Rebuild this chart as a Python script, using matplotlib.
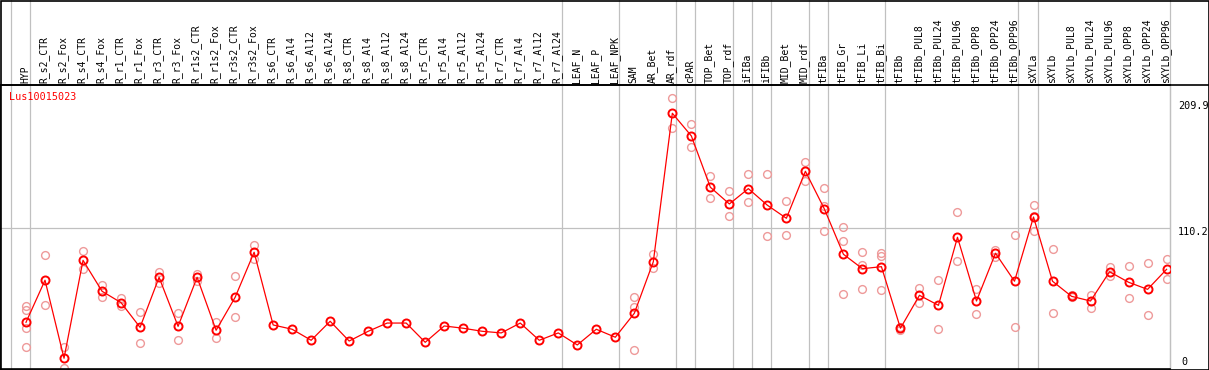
import matplotlib
matplotlib.use("Agg")
import matplotlib.pyplot as plt
from matplotlib.lines import Line2D
from matplotlib.patches import Rectangle
import matplotlib.transforms as mtransforms

gene = "Lus10015023"

categories = [
    "HYP", "R_s2_CTR", "R_s2_Fox", "R_s4_CTR", "R_s4_Fox", "R_r1_CTR", "R_r1_Fox",
    "R_r3_CTR", "R_r3_Fox", "R_r1s2_CTR", "R_r1s2_Fox", "R_r3s2_CTR", "R_r3s2_Fox",
    "R_s6_CTR", "R_s6_Al4", "R_s6_Al12", "R_s6_Al24", "R_s8_CTR", "R_s8_Al4",
    "R_s8_Al12", "R_s8_Al24", "R_r5_CTR", "R_r5_Al4", "R_r5_Al12", "R_r5_Al24",
    "R_r7_CTR", "R_r7_Al4", "R_r7_Al12", "R_r7_Al24", "LEAF_N", "LEAF_P", "LEAF_NPK",
    "SAM", "AR_Bet", "AR_rdf", "cPAR", "TOP_Bet", "TOP_rdf", "iFIBa", "iFIBb",
    "MID_Bet", "MID_rdf", "tFIBa", "tFIB_Gr", "tFIB_Li", "tFIB_Bi", "tFIBb",
    "tFIBb_PUL8", "tFIBb_PUL24", "tFIBb_PUL96", "tFIBb_OPP8", "tFIBb_OPP24",
    "tFIBb_OPP96", "sXYLa", "sXYLb", "sXYLb_PUL8", "sXYLb_PUL24", "sXYLb_PUL96",
    "sXYLb_OPP8", "sXYLb_OPP24", "sXYLb_OPP96",
]

means = [
    36.0, 69.2, 7.6, 84.9, 60.5, 51.5, 32.0, 71.5, 32.8, 71.5, 29.7, 55.7, 91.3,
    33.9, 30.5, 21.8, 36.8, 21.2, 28.9, 35.4, 35.4, 20.2, 33.1, 31.3, 28.9,
    27.6, 35.4, 21.8, 27.6, 18.1, 30.5, 24.2,
    43.1, 83.8, 201.0, 183.1, 142.6, 129.4, 141.5, 128.4,
    118.1, 155.2, 125.4, 89.7, 78.3, 79.9, 31.3,
    57.3, 49.4, 103.1, 52.8, 90.5, 68.4,
    119.1, 68.4, 56.5, 52.8, 75.9, 67.6, 62.0, 77.8,
]

replicates = [
    [49.1, 45.9, 31.7, 16.3], [88.9, 49.7], [16.3, 0.0], [92.3, 78.1], [65.4, 56.2],
    [55.4, 49.1], [44.4, 19.4], [75.5, 66.8], [43.6, 21.8], [74.1, 68.4],
    [36.5, 23.4], [72.3, 39.9], [96.8, 85.7],
    [], [], [], [], [], [], [], [], [], [], [], [], [], [], [], [], [], [], [],
    [55.7, 48.1, 13.9], [89.7, 78.6], [212.8, 189.1], [192.3, 174.1],
    [151.5, 133.9], [139.4, 119.9], [153.1, 130.7], [153.1, 104.1],
    [131.8, 104.7], [162.3, 147.8], [141.8, 128.0, 108.1], [111.0, 99.9, 58.1],
    [91.5, 81.2, 62.0], [90.5, 88.1, 61.5], [32.3, 30.3],
    [63.1, 51.5], [69.4, 30.5], [123.1, 84.2], [62.3, 42.3], [93.1, 87.8],
    [104.7, 32.0],
    [128.4, 120.1, 108.3], [93.6, 43.1], [57.5, 55.6], [57.5, 47.5], [79.7, 72.8],
    [80.2, 54.9], [82.6, 41.5], [85.7, 69.9],
]

# group separators: after these category indices
separators_after = [-1, 0, 28, 31, 34, 35, 37, 38, 39, 41, 42, 45, 52, 53]

tick_values = [209.9, 110.2, 0]
tick_labels = ["209.9", "110.2", "0"]

W, H = 1209, 370
fig = plt.figure(figsize=(W / 100, H / 100), dpi=100)
fig.patch.set_facecolor("white")

ax_left_px, ax_right_px, ax_top_px, ax_bot_px = 0, 1170, 85, 369
ax = fig.add_axes([ax_left_px / W, (H - ax_bot_px) / H,
                   (ax_right_px - ax_left_px) / W, (ax_bot_px - ax_top_px) / H])
ax.set_xlim(-1.368, 60.18)
ax.set_ylim(-0.87, 223.3)
ax.set_xticks([])
ax.set_yticks([])
for s in ["left", "bottom", "top"]:
    ax.spines[s].set_color("black")
    ax.spines[s].set_linewidth(1.2)
ax.spines["right"].set_color("#c0c0c0")
ax.spines["right"].set_linewidth(0.9)

gray = "#c0c0c0"
blend = mtransforms.blended_transform_factory(ax.transData, ax.transAxes)
top_frac = ax_bot_px / (ax_bot_px - ax_top_px) + 0.01
for s in separators_after:
    xs = s + 0.21
    ax.plot([xs, xs], [0, top_frac], color=gray, lw=0.9, transform=blend,
            clip_on=False, zorder=1)
ax.plot([ax.get_xlim()[1]] * 2, [0, top_frac], color=gray, lw=0.9,
        transform=blend, clip_on=False, zorder=1)
ax.axhline(110.2, color=gray, lw=0.9, zorder=1)

# replicates
pink = "#ee9a9a"
for i, reps in enumerate(replicates):
    if reps:
        ax.plot([i] * len(reps), reps, linestyle="none", marker="o", ms=5.6,
                mfc="none", mec=pink, mew=1.0, zorder=2)

xs = list(range(len(categories)))
ax.plot(xs, means, color="red", lw=0.9, zorder=3)
ax.plot(xs, means, linestyle="none", marker="o", ms=5.8, mfc="none",
        mec="red", mew=1.4, zorder=4)

# header labels
lab_y = 1 + 2 / (ax_bot_px - ax_top_px)
for i, c in enumerate(categories):
    ax.text(i - 0.05, lab_y, c, rotation=90, ha="center", va="bottom",
            fontsize=7.0, family="DejaVu Sans Mono", transform=blend, color="black")

# right-side value labels
rblend = mtransforms.blended_transform_factory(ax.transAxes, ax.transData)
xr = 1 + 8 / (ax_right_px - ax_left_px)
for v, t in zip(tick_values, tick_labels):
    if v == 0:
        ax.text(xr + 3 / 1170, 4.5, t, ha="left", va="center", fontsize=7.3,
                family="DejaVu Sans Mono", transform=rblend)
    else:
        ax.text(xr, v - 3.0, t, ha="left", va="center", fontsize=7.3,
                family="DejaVu Sans Mono", transform=rblend)

fig.text(9 / W, (H - 97) / H, gene, color="red", ha="left", va="center",
         fontsize=7.3, family="DejaVu Sans Mono")

# header separator line and outer frame
fig.add_artist(Line2D([0, 1], [(H - ax_top_px) / H] * 2, color="black", lw=1.2,
                      transform=fig.transFigure))
fig.add_artist(Rectangle((0.5 / W, 0.5 / H), 1 - 1.0 / W, 1 - 1.0 / H, fill=False,
                         ec="black", lw=1.2, transform=fig.transFigure))

fig.savefig("out.png", dpi=100)
